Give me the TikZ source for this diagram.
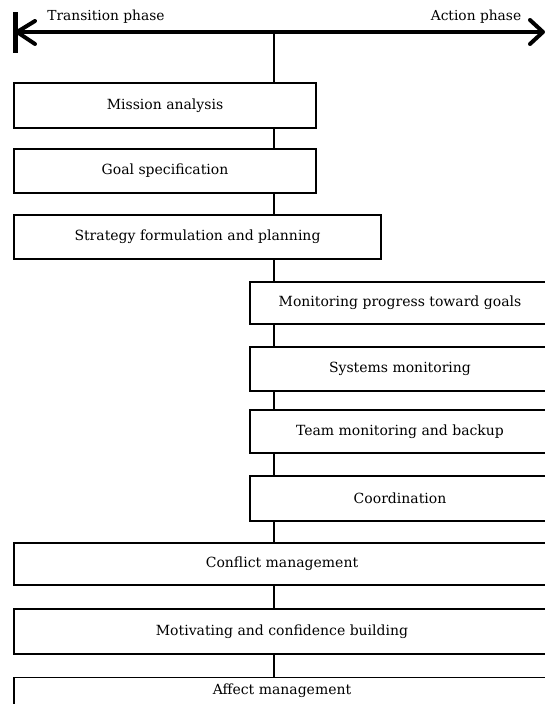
\documentclass[tikz,border=0pt]{standalone}
\usepackage{fontspec}
\setmainfont{DejaVu Serif}
\begin{document}
\begin{tikzpicture}[x=1pt,y=-1pt,
  stagebox/.style={draw=black, line width=1.3pt, fill=white, inner sep=0pt, font=\fontsize{14}{16}\selectfont},
  phaselabel/.style={inner sep=0pt, font=\fontsize{13.8}{16}\selectfont},
  spine/.style={draw=black, line width=1.4pt},
  axis/.style={draw=black, line width=3.5pt},
  chev/.style={draw=black, line width=4pt, line cap=round, line join=round}]
\useasboundingbox (0,0) rectangle (545,704);
\clip (0,0) rectangle (545,704);
% phase axis
\coordinate (L) at (17,32);
\coordinate (R) at (543,32);
\coordinate (S) at (274,32);
\draw[axis] (L) -- (R);
\draw[black, line width=5pt] (15,12) -- (15,53);
\draw[chev] (35,21) -- (L) -- (35,44);
\draw[chev] (530,20) -- (R) -- (530,44);
\node[phaselabel] (tp) at (106,17) {Transition phase};
\node[phaselabel] (ap) at (476,17) {Action phase};
% boxes
\newcommand{\stage}[6]{\node[stagebox, minimum width=#3-#2, minimum height=#5-#4] (#1) at ({(#2+#3)/2},{(#4+#5)/2}) {#6};}
\stage{b1}{14}{316}{83}{128}{Mission analysis}
\stage{b2}{14}{316}{149}{193}{Goal specification}
\stage{b3}{14}{381}{215}{259}{Strategy formulation and planning}
\stage{b4}{250}{550}{282}{324}{Monitoring progress toward goals}
\stage{b5}{250}{550}{347}{391}{Systems monitoring}
\stage{b6}{250}{550}{410}{453}{Team monitoring and backup}
\stage{b7}{250}{550}{476}{521}{Coordination}
\stage{b8}{14}{550}{543}{585}{Conflict management}
\stage{b9}{14}{550}{609}{654}{Motivating and confidence building}
\node[stagebox, minimum width=536, minimum height=46, anchor=north] (b10) at (282,677) {\raisebox{22pt}{Affect management}};
% spine connectors
\draw[spine] (S) -- (b1.north -| S);
\foreach \a/\b in {b1/b2,b2/b3,b3/b4,b4/b5,b5/b6,b6/b7,b7/b8,b8/b9,b9/b10}
  \draw[spine] (\a.south -| S) -- (\b.north -| S);
\end{tikzpicture}
\end{document}
